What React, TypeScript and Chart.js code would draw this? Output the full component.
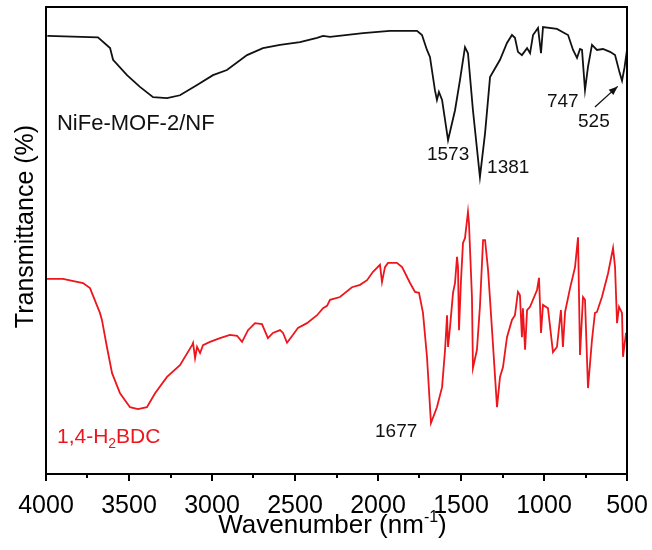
import React, { useEffect, useRef } from 'react';
import { Chart, registerables } from 'chart.js';

Chart.register(...registerables);

const FONT = '"Liberation Sans", Arial, Helvetica, sans-serif';
const BLACK = '#111111';
const RED = 'rgb(236, 22, 28)';

// NiFe-MOF-2/NF spectrum (wavenumber, transmittance in arbitrary %)
const mofWavenumber = [
  3992, 3687, 3614, 3596, 3512, 3434, 3355, 3271, 3193, 3090, 2994, 2910, 2789, 2693, 2590,
  2470, 2367, 2331, 2289, 2090, 1928, 1765, 1735, 1705, 1687, 1657, 1645, 1633, 1614, 1578,
  1536, 1506, 1476, 1458, 1428, 1386, 1355, 1325, 1265, 1223, 1193, 1175, 1157, 1133, 1102,
  1084, 1066, 1036, 1018, 1006, 922, 886, 855, 825, 801, 783, 771, 753, 735, 711, 681, 645,
  602, 572, 545, 530, 515, 500,
];
const mofTransmittance = [
  93.8, 93.5, 91.2, 88.7, 85.4, 82.9, 80.7, 80.5, 81.1, 83.3, 85.4, 86.5, 89.7, 91.2, 91.9,
  92.5, 93.4, 93.8, 93.6, 94.4, 94.9, 94.9, 94.0, 90.8, 89.3, 82.2, 80.1, 81.8, 80.1, 71.5,
  77.9, 84.4, 91.4, 90.1, 77.9, 63.6, 73.0, 85.0, 88.7, 92.3, 94.0, 93.4, 90.4, 89.7, 91.2,
  90.1, 94.0, 95.5, 90.1, 95.7, 95.3, 94.6, 94.0, 90.8, 89.1, 91.0, 90.8, 82.2, 87.2, 91.9,
  90.8, 91.0, 90.4, 89.7, 86.0, 84.2, 87.0, 90.8,
];

// 1,4-H2BDC spectrum
const bdcWavenumber = [
  3994, 3898, 3777, 3735, 3675, 3663, 3633, 3602, 3554, 3494, 3446, 3392, 3343, 3271, 3193,
  3120, 3114, 3102, 3090, 3072, 3054, 3012, 2952, 2892, 2849, 2819, 2783, 2741, 2699, 2663,
  2633, 2590, 2572, 2548, 2512, 2482, 2428, 2367, 2331, 2307, 2289, 2229, 2157, 2108, 2066,
  2030, 1988, 1976, 1958, 1940, 1886, 1855, 1807, 1777, 1753, 1729, 1705, 1681, 1645, 1614,
  1596, 1584, 1578, 1566, 1548, 1536, 1524, 1518, 1512, 1500, 1488, 1476, 1458, 1452, 1434,
  1428, 1404, 1386, 1367, 1355, 1337, 1313, 1283, 1265, 1247, 1223, 1193, 1175, 1157, 1145,
  1133, 1127, 1114, 1102, 1084, 1042, 1030, 1018, 1006, 976, 946, 922, 898, 886, 873, 843,
  813, 795, 783, 765, 753, 735, 711, 693, 681, 651, 614, 584, 572, 560, 548, 530, 524, 506,
];
const bdcTransmittance = [
  41.8, 41.8, 40.9, 39.8, 34.5, 33.0, 27.2, 21.6, 17.3, 14.3, 13.9, 14.3, 17.3, 20.8, 23.3,
  27.6, 28.1, 24.8, 27.2, 25.9, 27.6, 28.3, 29.1, 29.8, 29.6, 28.3, 30.8, 32.3, 32.1, 29.1,
  30.2, 30.8, 30.2, 28.1, 29.8, 31.3, 32.3, 34.0, 35.5, 36.0, 37.3, 37.9, 40.0, 40.5, 41.5,
  43.3, 44.8, 41.1, 44.3, 45.2, 45.2, 44.3, 40.9, 39.0, 38.8, 34.5, 25.1, 10.9, 14.3, 18.6,
  26.6, 34.0, 27.2, 31.5, 38.8, 40.9, 46.5, 44.3, 30.8, 41.5, 49.5, 50.5, 56.1, 53.7, 37.9,
  22.7, 26.6, 35.8, 50.1, 50.1, 43.7, 30.8, 14.3, 20.8, 22.9, 29.3, 33.0, 34.0, 39.0, 38.3,
  29.3, 35.5, 26.6, 35.1, 35.8, 39.4, 42.0, 30.2, 36.2, 35.5, 26.1, 27.2, 35.1, 27.2, 34.7,
  39.8, 44.3, 50.7, 25.5, 37.9, 37.3, 18.4, 28.7, 34.5, 34.7, 37.9, 43.0, 48.4, 44.3, 32.3,
  35.8, 34.5, 25.1, 30.2,
];

const majorTicks = [500, 1000, 1500, 2000, 2500, 3000, 3500, 4000];
const minorTicks = [750, 1250, 1750, 2250, 2750, 3250, 3750];

const xTitle = 'Wavenumber (nm';
const xTitleSup = '-1';
const yTitle = 'Transmittance (%)';

// text annotations: anchor = left/baseline in data coordinates
const annotationTexts = ['NiFe-MOF-2/NF', '1573', '1381', '747', '525', '1677'];
const annotationWn = [3934, 1705, 1343, 982, 795, 2018];
const annotationT = [73.7, 67.2, 64.5, 78.6, 74.3, 7.9];
const annotationSize = [22, 19, 19, 19, 19, 19];

const bdcLabelMain = '1,4-H';
const bdcLabelSub = '2';
const bdcLabelEnd = 'BDC';
const bdcLabelWn = 3934;
const bdcLabelT = 6.6;

const arrowFrom = { wn: 693, t: 78.6 };
const arrowTo = { wn: 556, t: 83.0 };

const decorPlugin = {
  id: 'decor',
  afterDraw(chart: any) {
    const { ctx, chartArea: a, scales } = chart;
    const xs = scales.x;
    const ys = scales.y;
    ctx.save();
    // frame
    ctx.strokeStyle = '#000';
    ctx.lineWidth = 2;
    ctx.strokeRect(a.left, a.top, a.right - a.left, a.bottom - a.top);
    // ticks
    ctx.lineWidth = 2;
    majorTicks.forEach((v) => {
      const px = Math.round(xs.getPixelForValue(v));
      ctx.beginPath();
      ctx.moveTo(px, a.bottom);
      ctx.lineTo(px, a.bottom + 7);
      ctx.stroke();
    });
    minorTicks.forEach((v) => {
      const px = Math.round(xs.getPixelForValue(v));
      ctx.beginPath();
      ctx.moveTo(px, a.bottom);
      ctx.lineTo(px, a.bottom + 4);
      ctx.stroke();
    });

    // x title with superscript
    ctx.fillStyle = '#000';
    ctx.textBaseline = 'alphabetic';
    ctx.textAlign = 'left';
    const big = `26px ${FONT}`;
    const small = `16px ${FONT}`;
    ctx.font = big;
    const w1 = ctx.measureText(xTitle).width;
    const w3 = ctx.measureText(')').width;
    ctx.font = small;
    const w2 = ctx.measureText(xTitleSup).width;
    const total = w1 + w2 + w3;
    const cx = (a.left + a.right) / 2 - 4;
    let sx = cx - total / 2;
    const by = 533;
    ctx.font = big;
    ctx.fillText(xTitle, sx, by);
    sx += w1;
    ctx.font = small;
    ctx.fillText(xTitleSup, sx, by - 11);
    sx += w2;
    ctx.font = big;
    ctx.fillText(')', sx, by);

    // y title
    ctx.save();
    ctx.translate(33, (a.top + a.bottom) / 2 - 14);
    ctx.rotate(-Math.PI / 2);
    ctx.textAlign = 'center';
    ctx.font = `25px ${FONT}`;
    ctx.fillText(yTitle, 0, 0);
    ctx.restore();

    // annotations
    ctx.textAlign = 'left';
    annotationTexts.forEach((t, i) => {
      ctx.font = `${annotationSize[i]}px ${FONT}`;
      ctx.fillStyle = '#111';
      ctx.fillText(t, xs.getPixelForValue(annotationWn[i]), ys.getPixelForValue(annotationT[i]));
    });

    // 1,4-H2BDC label
    ctx.fillStyle = RED;
    let lx = xs.getPixelForValue(bdcLabelWn);
    const ly = ys.getPixelForValue(bdcLabelT);
    ctx.font = `21px ${FONT}`;
    ctx.fillText(bdcLabelMain, lx, ly);
    lx += ctx.measureText(bdcLabelMain).width;
    ctx.font = `14px ${FONT}`;
    ctx.fillText(bdcLabelSub, lx, ly + 5);
    lx += ctx.measureText(bdcLabelSub).width;
    ctx.font = `21px ${FONT}`;
    ctx.fillText(bdcLabelEnd, lx, ly);

    // arrow
    const x1 = xs.getPixelForValue(arrowFrom.wn);
    const y1 = ys.getPixelForValue(arrowFrom.t);
    const x2 = xs.getPixelForValue(arrowTo.wn);
    const y2 = ys.getPixelForValue(arrowTo.t);
    ctx.strokeStyle = '#111';
    ctx.fillStyle = '#111';
    ctx.lineWidth = 1.3;
    ctx.beginPath();
    ctx.moveTo(x1, y1);
    ctx.lineTo(x2, y2);
    ctx.stroke();
    const ang = Math.atan2(y2 - y1, x2 - x1);
    const hl = 9;
    const hw = 3.5;
    ctx.beginPath();
    ctx.moveTo(x2, y2);
    ctx.lineTo(x2 - hl * Math.cos(ang) + hw * Math.sin(ang), y2 - hl * Math.sin(ang) - hw * Math.cos(ang));
    ctx.lineTo(x2 - hl * Math.cos(ang) - hw * Math.sin(ang), y2 - hl * Math.sin(ang) + hw * Math.cos(ang));
    ctx.closePath();
    ctx.fill();
    ctx.restore();
  },
};

export default function App() {
  const canvasRef = useRef<HTMLCanvasElement | null>(null);

  useEffect(() => {
    if (!canvasRef.current) return;
    const chart = new Chart(canvasRef.current, {
      type: 'line',
      data: {
        datasets: [
          {
            label: 'NiFe-MOF-2/NF',
            data: mofWavenumber.map((x, i) => ({ x, y: mofTransmittance[i] })),
            borderColor: BLACK,
            borderWidth: 1.8,
            pointRadius: 0,
            tension: 0,
            fill: false,
          },
          {
            label: '1,4-H2BDC',
            data: bdcWavenumber.map((x, i) => ({ x, y: bdcTransmittance[i] })),
            borderColor: RED,
            borderWidth: 1.8,
            pointRadius: 0,
            tension: 0,
            fill: false,
          },
        ],
      },
      options: {
        responsive: false,
        animation: false,
        events: [],
        layout: { padding: { left: 46, right: 25, top: 7, bottom: 0 } },
        plugins: {
          legend: { display: false },
          tooltip: { enabled: false },
          title: { display: false },
        },
        scales: {
          x: {
            type: 'linear',
            reverse: true,
            min: 500,
            max: 4000,
            afterBuildTicks: (scale: any) => {
              scale.ticks = majorTicks.map((v) => ({ value: v }));
            },
            afterFit: (scale: any) => {
              scale.height = 76;
              scale.paddingLeft = 0;
              scale.paddingRight = 0;
            },
            grid: { display: false, drawTicks: false },
            border: { display: false },
            ticks: {
              autoSkip: false,
              maxRotation: 0,
              padding: 17,
              color: '#000',
              font: { family: FONT, size: 25 },
              callback: (v: any) => String(v),
            },
          },
          y: {
            display: false,
            min: 0,
            max: 100,
          },
        },
      },
      plugins: [decorPlugin],
    });
    return () => chart.destroy();
  }, []);

  return (
    <div style={{ position: 'fixed', left: 0, top: 0, width: 652, height: 550, background: '#fff' }}>
      <canvas ref={canvasRef} width={652} height={550} style={{ display: 'block' }} />
    </div>
  );
}
